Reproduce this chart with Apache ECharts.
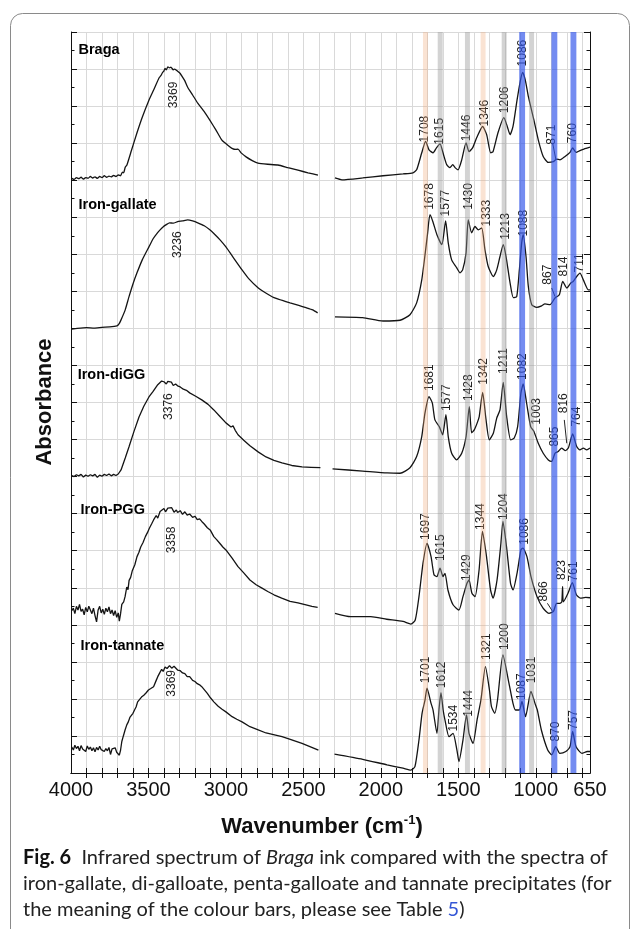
<!DOCTYPE html>
<html>
<head>
<meta charset="utf-8">
<script src="https://cdn.jsdelivr.net/npm/echarts@6/dist/echarts.min.js"></script>
<style>
  html, body { margin: 0; padding: 0; background: #fff; }
  #chart { width: 632px; height: 929px; }
</style>
</head>
<body>
<div id="chart"></div>
<script>
// x axis (wavenumber, cm-1), drawn high -> low
var xLabelValues = [4000, 3500, 3000, 2500, 2000, 1500, 1000, 650];
var xTickValues = [3900, 3800, 3700, 3600, 3500, 3400, 3300, 3200, 3100, 3000, 2900, 2800,
  2700, 2600, 2500, 2400, 2300, 2200, 2100, 2000, 1900, 1800, 1700, 1600, 1500, 1400,
  1300, 1200, 1100, 1000, 900, 800, 700];

// spectra, [wavenumber, absorbance (stacked offset, a.u.)]; 2400-2300 region is cut out
var bragaHigh = [[3995,16.05],[3980,16.02],[3965,16.07],[3950,16.04],[3935,16.08],[3920,16.03],[3905,16.07],[3890,16.05],[3875,16.1],[3860,16.06],[3845,16.09],[3830,16.05],[3815,16.1],[3800,16.07],[3785,16.12],[3770,16.08],[3755,16.11],[3740,16.09],[3725,16.13],[3710,16.1],[3695,16.14],[3680,16.12],[3668,16.22],[3660,16.2],[3650,16.35],[3639,16.41],[3610,16.8],[3574,17.28],[3540,17.7],[3497,18.16],[3465,18.45],[3432,18.76],[3420,18.82],[3410,18.9],[3400,18.95],[3393,19.02],[3385,18.98],[3375,19.06],[3364,19.03],[3355,19.05],[3340,18.98],[3330,19.0],[3312,18.94],[3295,18.88],[3280,18.78],[3265,18.68],[3247,18.51],[3215,18.3],[3182,18.08],[3140,17.85],[3104,17.62],[3065,17.36],[3026,17.08],[2990,16.95],[2961,16.86],[2935,16.83],[2922,16.84],[2900,16.73],[2870,16.63],[2830,16.53],[2793,16.46],[2730,16.43],[2664,16.41],[2600,16.34],[2535,16.27],[2470,16.2],[2406,16.14]];
var bragaLow = [[2296,16.06],[2251,16.01],[2117,16.06],[1986,16.12],[1857,16.17],[1793,16.2],[1769,16.28],[1736,16.74],[1711,17.05],[1689,16.82],[1663,16.74],[1640,16.88],[1618,16.98],[1599,16.74],[1575,16.42],[1554,16.34],[1536,16.42],[1521,16.34],[1502,16.28],[1478,16.55],[1450,17.01],[1431,16.77],[1407,16.88],[1381,17.15],[1343,17.45],[1317,17.23],[1291,16.74],[1276,16.77],[1244,17.28],[1206,17.69],[1184,17.45],[1166,17.23],[1147,17.45],[1121,18.16],[1102,18.63],[1085,18.91],[1068,18.71],[1048,18.26],[1033,17.99],[1012,17.62],[984,17.09],[952,16.64],[919,16.48],[887,16.5],[865,16.57],[844,16.55],[811,16.64],[779,16.75],[762,16.87],[740,16.75],[715,16.8],[689,16.84],[650,16.89]];

var gallateHigh = [[3995,11.98],[3960,12.0],[3900,12.02],[3850,12.01],[3800,12.03],[3750,12.04],[3703,12.07],[3690,12.12],[3677,12.23],[3650,12.5],[3626,12.85],[3600,13.2],[3574,13.5],[3540,13.85],[3497,14.2],[3470,14.42],[3442,14.58],[3425,14.66],[3406,14.74],[3385,14.8],[3364,14.85],[3340,14.84],[3312,14.88],[3280,14.9],[3247,14.93],[3215,14.9],[3182,14.85],[3140,14.77],[3104,14.66],[3070,14.53],[3038,14.39],[3000,14.2],[2950,13.9],[2896,13.58],[2850,13.33],[2793,13.1],[2740,12.95],[2690,12.83],[2640,12.76],[2586,12.69],[2530,12.62],[2483,12.56],[2440,12.5],[2408,12.42]];
var gallateLow = [[2296,12.31],[2117,12.29],[1986,12.2],[1876,12.22],[1812,12.37],[1769,12.69],[1736,13.31],[1711,14.12],[1698,14.58],[1683,15.07],[1664,14.88],[1638,14.53],[1606,14.26],[1582,14.9],[1565,14.31],[1543,13.85],[1511,13.64],[1489,13.5],[1472,13.58],[1450,14.04],[1436,14.93],[1414,14.58],[1392,14.75],[1371,14.66],[1349,14.71],[1328,14.12],[1307,13.67],[1274,13.4],[1252,13.58],[1231,13.94],[1210,14.26],[1192,13.94],[1166,13.23],[1145,12.83],[1123,12.86],[1106,13.58],[1091,14.31],[1081,14.53],[1063,13.94],[1048,13.13],[1026,12.64],[994,12.57],[962,12.61],[941,12.66],[908,12.64],[876,12.82],[848,12.91],[826,13.27],[800,13.09],[775,13.22],[758,13.27],[736,13.4],[715,13.49],[693,13.31],[661,13.04],[650,13.04]];

var diggHigh = [[3995,8.03],[3980,8.0],[3965,8.05],[3950,8.02],[3935,8.06],[3920,7.99],[3905,8.04],[3890,8.01],[3875,8.05],[3860,8.02],[3845,8.06],[3830,7.98],[3815,8.04],[3800,8.01],[3785,8.06],[3770,8.03],[3755,8.07],[3740,8.02],[3725,8.06],[3710,8.03],[3695,8.07],[3685,8.05],[3677,8.18],[3650,8.5],[3626,8.8],[3595,9.2],[3561,9.61],[3530,9.9],[3497,10.15],[3470,10.3],[3450,10.42],[3440,10.48],[3429,10.5],[3415,10.58],[3400,10.56],[3392,10.6],[3385,10.5],[3375,10.57],[3364,10.53],[3352,10.55],[3340,10.46],[3325,10.5],[3312,10.45],[3295,10.42],[3275,10.36],[3255,10.33],[3234,10.26],[3195,10.17],[3156,10.07],[3115,9.95],[3078,9.8],[3040,9.63],[3000,9.45],[2967,9.34],[2954,9.37],[2940,9.25],[2922,9.13],[2885,8.98],[2845,8.83],[2790,8.66],[2741,8.53],[2690,8.44],[2638,8.37],[2575,8.3],[2509,8.26],[2450,8.25],[2390,8.24]];
var diggLow = [[2312,8.21],[2117,8.15],[1960,8.1],[1876,8.09],[1812,8.24],[1769,8.54],[1736,9.08],[1715,9.72],[1689,10.16],[1668,9.99],[1651,9.53],[1623,9.35],[1601,9.13],[1580,9.67],[1565,9.08],[1543,8.63],[1511,8.45],[1478,8.63],[1450,9.08],[1429,9.89],[1414,9.18],[1397,9.26],[1378,9.45],[1365,9.62],[1343,10.27],[1321,9.53],[1300,8.99],[1274,9.17],[1252,9.58],[1231,9.8],[1210,10.54],[1188,9.62],[1162,8.99],[1139,9.04],[1117,9.35],[1096,10.25],[1081,10.5],[1059,9.98],[1033,9.35],[1012,9.22],[984,8.9],[952,8.63],[919,8.45],[897,8.41],[876,8.63],[855,8.68],[833,8.77],[811,8.7],[790,8.77],[762,9.15],[736,8.81],[715,8.72],[693,8.77],[671,8.72],[650,8.77]];

var pggHigh = [[3995,4.38],[3985,4.45],[3975,4.3],[3965,4.5],[3955,4.4],[3945,4.55],[3935,4.36],[3925,4.42],[3915,4.27],[3905,4.47],[3895,4.35],[3885,4.5],[3875,4.4],[3865,4.3],[3855,4.45],[3845,4.25],[3835,4.08],[3825,4.4],[3815,4.5],[3805,4.32],[3795,4.42],[3785,4.28],[3775,4.45],[3765,4.35],[3755,4.48],[3745,4.3],[3735,4.4],[3725,4.25],[3715,4.38],[3705,4.2],[3695,4.32],[3688,4.1],[3680,4.3],[3672,4.55],[3660,4.62],[3651,4.76],[3640,5.02],[3632,4.95],[3625,5.2],[3615,5.28],[3605,5.45],[3598,5.4],[3588,5.62],[3574,5.84],[3562,5.95],[3550,6.1],[3535,6.22],[3520,6.38],[3505,6.5],[3495,6.6],[3480,6.72],[3467,6.83],[3450,6.95],[3440,6.88],[3425,7.06],[3416,7.02],[3400,7.14],[3390,7.05],[3375,7.15],[3364,7.1],[3350,7.16],[3335,7.04],[3320,7.1],[3312,7.03],[3295,7.08],[3280,6.98],[3265,7.05],[3250,6.96],[3234,6.99],[3215,6.9],[3200,6.93],[3185,6.84],[3170,6.86],[3156,6.79],[3140,6.72],[3120,6.62],[3100,6.55],[3078,6.38],[3060,6.3],[3040,6.2],[3020,6.1],[3000,6.02],[2960,5.8],[2922,5.57],[2885,5.4],[2845,5.21],[2805,5.08],[2767,4.99],[2730,4.9],[2690,4.81],[2640,4.72],[2586,4.63],[2535,4.59],[2483,4.54],[2445,4.5],[2408,4.47]];
var pggLow = [[2296,4.31],[2195,4.22],[2066,4.22],[1962,4.15],[1857,4.09],[1806,4.02],[1778,4.13],[1754,4.76],[1728,5.66],[1702,6.2],[1676,5.84],[1657,5.35],[1638,5.3],[1618,5.53],[1599,5.3],[1586,5.39],[1567,4.94],[1534,4.54],[1496,4.4],[1470,4.76],[1444,5.12],[1431,5.21],[1412,4.85],[1392,4.76],[1366,5.48],[1344,6.52],[1318,5.84],[1292,4.94],[1276,4.72],[1250,5.21],[1225,6.2],[1212,6.79],[1189,6.11],[1163,5.12],[1147,4.94],[1121,5.39],[1096,6.02],[1083,6.07],[1057,5.84],[1031,5.3],[992,4.76],[953,4.45],[915,4.31],[886,4.36],[866,4.58],[844,4.58],[832,4.62],[827,5.03],[822,4.62],[792,4.85],[764,5.14],[738,4.81],[712,4.72],[678,4.74],[650,4.73]];

var tannateHigh = [[3995,0.7],[3985,0.62],[3975,0.75],[3965,0.66],[3955,0.72],[3945,0.6],[3935,0.74],[3925,0.65],[3915,0.7],[3905,0.58],[3895,0.73],[3885,0.64],[3875,0.7],[3865,0.6],[3855,0.68],[3845,0.57],[3835,0.69],[3825,0.62],[3815,0.72],[3805,0.63],[3795,0.68],[3785,0.58],[3775,0.66],[3765,0.6],[3755,0.69],[3745,0.5],[3735,0.65],[3725,0.6],[3715,0.68],[3705,0.56],[3695,0.6],[3688,0.48],[3680,0.62],[3672,0.85],[3662,1.0],[3651,1.16],[3640,1.3],[3630,1.38],[3620,1.5],[3610,1.52],[3600,1.61],[3590,1.7],[3580,1.78],[3570,1.92],[3561,1.97],[3545,2.05],[3530,2.1],[3516,2.16],[3500,2.24],[3485,2.28],[3467,2.33],[3450,2.5],[3440,2.6],[3429,2.69],[3415,2.8],[3405,2.74],[3393,2.86],[3380,2.82],[3364,2.9],[3350,2.83],[3335,2.88],[3312,2.78],[3295,2.76],[3280,2.7],[3265,2.68],[3250,2.6],[3234,2.6],[3215,2.5],[3200,2.47],[3185,2.41],[3170,2.38],[3156,2.33],[3140,2.25],[3120,2.15],[3100,2.03],[3078,1.92],[3050,1.8],[3025,1.72],[3000,1.65],[2960,1.52],[2930,1.45],[2896,1.38],[2845,1.25],[2800,1.18],[2741,1.08],[2700,1.04],[2638,0.98],[2580,0.9],[2509,0.8],[2450,0.7],[2403,0.62]];
var tannateLow = [[2299,0.51],[2117,0.37],[1960,0.22],[1857,0.13],[1806,0.08],[1780,0.17],[1754,0.89],[1734,1.61],[1715,1.97],[1702,2.29],[1676,1.88],[1663,1.7],[1638,1.07],[1624,1.75],[1612,2.17],[1598,1.7],[1586,1.43],[1560,0.98],[1534,1.07],[1509,0.62],[1496,0.31],[1470,0.89],[1447,1.57],[1431,1.07],[1405,0.8],[1379,1.43],[1354,1.97],[1325,2.87],[1299,2.24],[1286,1.79],[1265,1.61],[1247,1.97],[1212,3.19],[1173,2.42],[1147,1.88],[1131,1.7],[1106,1.7],[1089,1.93],[1066,1.52],[1031,2.2],[1005,1.88],[990,1.7],[964,1.16],[923,0.62],[897,0.49],[871,0.71],[845,0.53],[806,0.58],[779,0.71],[762,1.12],[740,0.71],[702,0.53],[667,0.58],[650,0.58]];

// sample names and where they sit
var sampleNames = ['Braga', 'Iron-gallate', 'Iron-diGG', 'Iron-PGG', 'Iron-tannate'];
var sampleNameAt = [[3955, 19.52], [3955, 15.34], [3960, 10.73], [3942, 7.1], [3942, 3.43]];

// peak labels: [text, wavenumber, height]
var bragaPeaks = [['3369',3340,18.3],['1708',1720,17.38],['1615',1618,17.32],['1446',1446,17.41],['1346',1328,17.81],['1206',1199,18.17],['1086',1085,19.43],['871',897,17.23],['760',762,17.27]];
var gallatePeaks = [['3236',3312,14.26],['1678',1683,15.56],['1577',1580,15.38],['1430',1436,15.56],['1333',1317,15.11],['1213',1194,14.75],['1088',1076,14.84],['867',921,13.45],['814',818,13.67],['711',715,13.77]];
var diggPeaks = [['3376',3369,9.89],['1681',1683,10.67],['1577',1575,10.13],['1428',1436,10.4],['1342',1334,10.84],['1211',1210,11.12],['1082',1085,10.97],['1003',994,9.76],['865',880,9.08],['816',822,9.98],['764',736,9.62]];
var pggPeaks = [['3358',3351,6.29],['1697',1709,6.65],['1615',1612,6.08],['1429',1444,5.54],['1344',1354,6.92],['1204',1208,7.19],['1086',1073,6.52],['866',949,4.9],['823',832,5.48],['761',753,5.44]];
var tannatePeaks = [['3369',3351,2.42],['1701',1709,2.78],['1612',1606,2.65],['1534',1528,1.48],['1444',1434,1.88],['1321',1318,3.41],['1200',1199,3.68],['1087',1092,2.33],['1031',1025,2.78],['870',870,1.12],['757',753,1.43]];

// short leader lines from label to curve
var leaders = [
  [[870,16.55],[891,17.0]],
  [[876,12.86],[897,13.09]],
  [[800,8.9],[816,9.53]],
  [[891,4.36],[925,4.58]]
];

// colour bars (band centres, cm-1), see Table 5
var orangeBands = [1712, 1340];
var grayBands = [1617, 1441, 1204, 1027];
var blueBands = [1088, 880, 757];

var chart = echarts.init(document.getElementById('chart'), null, { renderer: 'canvas' });
var FONT = 'Liberation Sans, Arial, sans-serif';
var CAPTION_FONT = 'Lato, Noto Sans, sans-serif';

// one line series per segment, so the CO2 gap stays open
function segment(data, smooth) {
  return {
    type: 'line',
    data: data,
    showSymbol: false,
    smooth: smooth,
    silent: true,
    z: 2,
    lineStyle: { color: '#141414', width: 1.3 }
  };
}

function peakLabels(peaks) {
  return {
    type: 'scatter',
    symbolSize: 1,
    silent: true,
    z: 3,
    itemStyle: { color: 'rgba(0,0,0,0)', opacity: 1 },
    data: peaks.map(function (p) { return { name: p[0], value: [p[1], p[2]] }; }),
    label: {
      show: true,
      formatter: '{b}',
      position: 'inside',
      rotate: 90,
      fontSize: 12,
      fontFamily: FONT,
      color: '#1e1e1e'
    }
  };
}

function bands(centers, half, color) {
  return {
    type: 'custom',
    silent: true,
    z: 10,
    data: centers.map(function (c) { return [c, 0]; }),
    renderItem: function (params, api) {
      var c = api.value(0);
      var a = api.coord([c + half, 20]);
      var b = api.coord([c - half, 0]);
      return {
        type: 'rect',
        shape: { x: Math.min(a[0], b[0]), y: a[1], width: Math.abs(b[0] - a[0]), height: b[1] - a[1] },
        style: { fill: color }
      };
    }
  };
}

var series = [
  segment(bragaHigh, 0.15), segment(bragaLow, 0.2),
  segment(gallateHigh, 0.15), segment(gallateLow, 0.2),
  segment(diggHigh, false), segment(diggLow, 0.2),
  segment(pggHigh, false), segment(pggLow, 0.2),
  segment(tannateHigh, false), segment(tannateLow, 0.2),
  peakLabels(bragaPeaks),
  peakLabels(gallatePeaks),
  peakLabels(diggPeaks),
  peakLabels(pggPeaks),
  peakLabels(tannatePeaks),
  {
    type: 'scatter',
    symbolSize: 1,
    silent: true,
    z: 3,
    itemStyle: { color: 'rgba(0,0,0,0)', opacity: 1 },
    data: sampleNames.map(function (n, i) { return { name: n, value: sampleNameAt[i] }; }),
    label: {
      show: true,
      formatter: '{b}',
      position: 'right',
      distance: 0,
      fontSize: 14.5,
      fontWeight: 'bold',
      fontFamily: FONT,
      color: '#000'
    }
  },
  bands(orangeBands, 16, 'rgba(240,170,120,0.33)'),
  bands(grayBands, 16, 'rgba(150,150,150,0.42)'),
  bands(blueBands, 19, 'rgba(50,85,235,0.68)')
];

leaders.forEach(function (seg) {
  series.push({
    type: 'line',
    data: seg,
    showSymbol: false,
    silent: true,
    z: 2,
    lineStyle: { color: '#222', width: 1 }
  });
});

var xBase = {
  type: 'value',
  inverse: true,
  min: 650,
  max: 4000,
  axisLine: { show: true, lineStyle: { color: '#111', width: 1 } }
};

var yBase = {
  type: 'value',
  min: 0,
  max: 20,
  interval: 1,
  axisLine: { show: true, lineStyle: { color: '#111', width: 1 } },
  axisTick: { show: true, inside: true, length: 6, lineStyle: { color: '#111' } },
  minorTick: { show: true, splitNumber: 2, length: 3.5, lineStyle: { color: '#111' } },
  axisLabel: { show: false }
};

var option = {
  animation: false,
  backgroundColor: '#fff',
  textStyle: { fontFamily: FONT },
  grid: { left: 71, top: 32, width: 519, height: 741, containLabel: false },
  xAxis: [
    Object.assign({}, xBase, {
      position: 'bottom',
      axisTick: { show: true, inside: true, length: 5, customValues: xTickValues, lineStyle: { color: '#111' } },
      axisLabel: {
        show: true,
        customValues: xLabelValues,
        formatter: function (v) { return String(v); },
        fontSize: 20,
        color: '#111',
        margin: 7,
        fontFamily: FONT
      },
      splitLine: { show: true, lineStyle: { color: '#d9d9d9', width: 1 } }
    }),
    Object.assign({}, xBase, {
      position: 'top',
      axisTick: { show: true, inside: true, length: 5, customValues: xTickValues, lineStyle: { color: '#111' } },
      axisLabel: { show: false },
      splitLine: { show: false }
    })
  ],
  yAxis: [
    Object.assign({}, yBase, {
      position: 'left',
      splitLine: { show: true, lineStyle: { color: '#d9d9d9', width: 1 } }
    }),
    Object.assign({}, yBase, {
      position: 'right',
      splitLine: { show: false }
    })
  ],
  graphic: [
    {
      type: 'rect',
      silent: true,
      shape: { x: 10.5, y: 13.5, width: 619, height: 950, r: 12 },
      style: { fill: 'none', stroke: '#8a8a8a', lineWidth: 1 }
    },
    {
      type: 'text',
      silent: true,
      x: 45,
      y: 402,
      rotation: Math.PI / 2,
      style: {
        text: 'Absorbance',
        fontSize: 22,
        fontWeight: 'bold',
        fontFamily: FONT,
        fill: '#111',
        align: 'center',
        verticalAlign: 'middle'
      }
    },
    {
      type: 'text',
      silent: true,
      x: 322,
      y: 827,
      style: {
        text: '{m|Wavenumber (cm}{s|-1}{m|)}',
        align: 'center',
        verticalAlign: 'middle',
        rich: {
          m: { fontSize: 22, fontWeight: 'bold', fontFamily: FONT, fill: '#111', lineHeight: 26 },
          s: { fontSize: 13, fontWeight: 'bold', fontFamily: FONT, fill: '#111', verticalAlign: 'top', lineHeight: 26 }
        }
      }
    },
    {
      type: 'text',
      silent: true,
      x: 23,
      y: 845,
      style: {
        text: '{b|Fig. 6}  Infrared spectrum of {i|Braga} ink compared with the spectra of\n' +
              'iron-gallate, di-galloate, penta-galloate and tannate precipitates (for\n' +
              'the meaning of the colour bars, please see Table {l|5})',
        fontSize: 20,
        fontFamily: CAPTION_FONT,
        fill: '#222',
        lineHeight: 26,
        rich: {
          b: { fontSize: 20, fontWeight: 'bold', fontFamily: CAPTION_FONT, fill: '#111', lineHeight: 26 },
          i: { fontSize: 20, fontStyle: 'italic', fontFamily: CAPTION_FONT, fill: '#222', lineHeight: 26 },
          l: { fontSize: 20, fontFamily: CAPTION_FONT, fill: '#3557d6', lineHeight: 26 }
        }
      }
    }
  ],
  series: series
};

chart.setOption(option);
</script>
